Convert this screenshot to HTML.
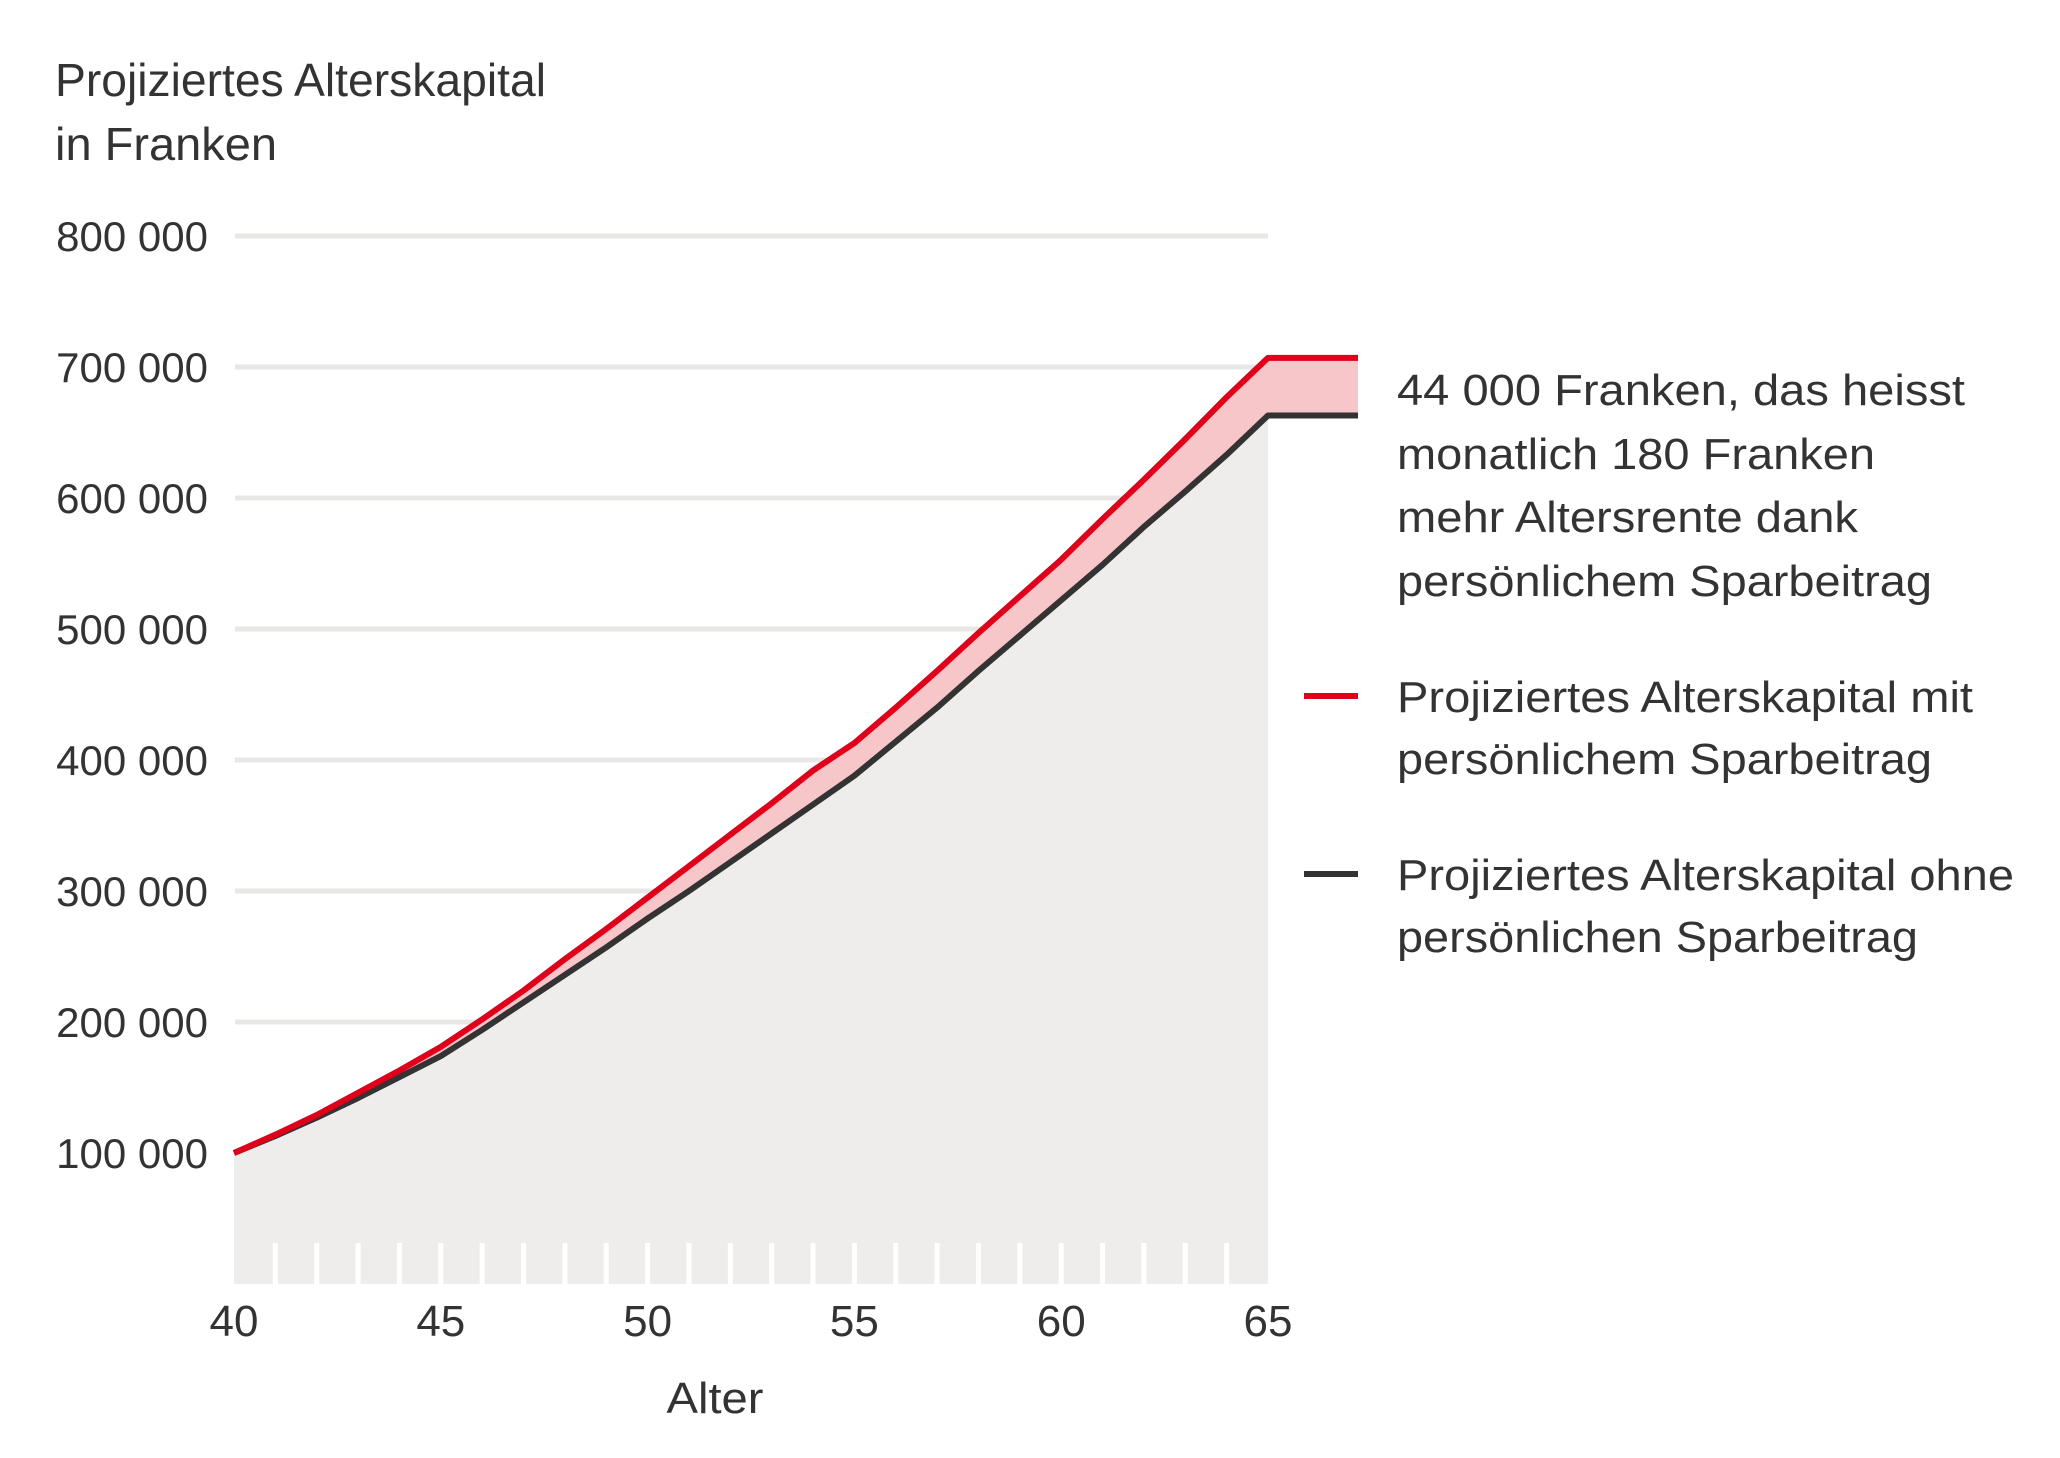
<!DOCTYPE html>
<html><head><meta charset="utf-8"><style>
html,body{margin:0;padding:0;background:#fff;}
svg{display:block;font-family:"Liberation Sans",Arial,sans-serif;}
text{fill:#333;}
</style></head><body>
<svg id="chart" width="2060" height="1458" viewBox="0 0 2060 1458">
<g>
<text x="55" y="96" font-size="46" textLength="491" lengthAdjust="spacingAndGlyphs">Projiziertes Alterskapital</text>
<text x="55" y="160" font-size="46" textLength="222" lengthAdjust="spacingAndGlyphs">in Franken</text>
</g>
<g id="grid"></g>
<g id="yticks"></g>
<g id="areas"></g>
<g id="xticks"></g>
<g id="lines"></g>
<g id="xlabels"></g>
<text x="715" y="1413" font-size="44" text-anchor="middle" textLength="97" lengthAdjust="spacingAndGlyphs">Alter</text>
<g>
<text x="1397" y="405" font-size="44" textLength="568" lengthAdjust="spacingAndGlyphs">44 000 Franken, das heisst</text>
<text x="1397" y="469" font-size="44" textLength="478" lengthAdjust="spacingAndGlyphs">monatlich 180 Franken</text>
<text x="1397" y="532" font-size="44" textLength="461" lengthAdjust="spacingAndGlyphs">mehr Altersrente dank</text>
<text x="1397" y="596" font-size="44" textLength="535" lengthAdjust="spacingAndGlyphs">persönlichem Sparbeitrag</text>
</g>
<g>
<line x1="1304" y1="696" x2="1358" y2="696" stroke="#e0001a" stroke-width="6"/>
<text x="1397" y="712" font-size="44" textLength="576" lengthAdjust="spacingAndGlyphs">Projiziertes Alterskapital mit</text>
<text x="1397" y="774" font-size="44" textLength="535" lengthAdjust="spacingAndGlyphs">persönlichem Sparbeitrag</text>
</g>
<g>
<line x1="1304" y1="874" x2="1358" y2="874" stroke="#333" stroke-width="6"/>
<text x="1397" y="890" font-size="44" textLength="617" lengthAdjust="spacingAndGlyphs">Projiziertes Alterskapital ohne</text>
<text x="1397" y="952" font-size="44" textLength="521" lengthAdjust="spacingAndGlyphs">persönlichen Sparbeitrag</text>
</g>
</svg>
<script>
const ages = [40,41,42,43,44,45,46,47,48,49,50,51,52,53,54,55,56,57,58,59,60,61,62,63,64,65];
const withContribution = [100000,114000,129000,146000,163000,181000,202000,224000,248000,271000,295000,319000,343000,367000,392000,413000,440000,468000,497000,525000,553000,584000,614000,645000,677000,707000];
const withoutContribution = [100000,113000,127000,142000,158000,174000,194000,215000,236000,257000,279000,300000,322000,344000,366000,388000,414000,440000,468000,495000,522000,549000,578000,605000,633000,663000];
const yTicks = [100000,200000,300000,400000,500000,600000,700000,800000];
const yTickLabels = ["100 000","200 000","300 000","400 000","500 000","600 000","700 000","800 000"];
const xTicks = [40,45,50,55,60,65];
const xTickLabels = ["40","45","50","55","60","65"];

const NS = "http://www.w3.org/2000/svg";
const x = a => 234 + (a - 40) * (1268 - 234) / 25;
const y = v => 1284 - v * 131 / 100000;
const extendX = x(65) + 90;
function mk(tag, attrs, parent){const e=document.createElementNS(NS,tag);for(const k in attrs)e.setAttribute(k,attrs[k]);parent.appendChild(e);return e;}

const grid=document.getElementById('grid'), yt=document.getElementById('yticks');
yTicks.forEach((v,i)=>{
  const l=mk('line',{x1:235,x2:1268,y1:y(v),y2:y(v),stroke:'#e8e7e5','stroke-width':5},grid);
  
  
  const t=mk('text',{x:208,y:y(v)+15,'font-size':42,'text-anchor':'end'},yt);
  t.textContent=yTickLabels[i];
  
  
});

const areas=document.getElementById('areas');
const last=ages.length-1;
let gp=`M${x(40)},${y(0)}`;
ages.forEach((a,i)=>gp+=` L${x(a)},${y(withoutContribution[i])}`);
gp+=` L${x(65)},${y(0)} Z`;
const ga=mk('path',{d:gp,fill:'#eeedeb'},areas);


let pp='M'+ages.map((a,i)=>`${x(a)},${y(withContribution[i])}`).join(' L')+` L${extendX},${y(withContribution[last])} L${extendX},${y(withoutContribution[last])}`;
for(let i=last;i>=0;i--) pp+=` L${x(ages[i])},${y(withoutContribution[i])}`;
pp+=' Z';
const pa=mk('path',{d:pp,fill:'#f6c6c9'},areas);



const xt=document.getElementById('xticks');
ages.slice(1,-1).forEach(a=>{
  const r=mk('rect',{x:x(a)-2.5,y:1243,width:5,height:42,fill:'#fff'},xt);
  
  
});

const lines=document.getElementById('lines');
const bp='M'+ages.map((a,i)=>`${x(a)},${y(withoutContribution[i])}`).join(' L')+` L${extendX},${y(withoutContribution[last])}`;
const bl=mk('path',{d:bp,fill:'none',stroke:'#333','stroke-width':6,'stroke-linejoin':'round'},lines);


const rp='M'+ages.map((a,i)=>`${x(a)},${y(withContribution[i])}`).join(' L')+` L${extendX},${y(withContribution[last])}`;
const rl=mk('path',{d:rp,fill:'none',stroke:'#e0001a','stroke-width':6,'stroke-linejoin':'round'},lines);



const xl=document.getElementById('xlabels');
xTicks.forEach((a,i)=>{
  const t=mk('text',{x:x(a),y:1336,'font-size':44,'text-anchor':'middle'},xl);
  t.textContent=xTickLabels[i];
  
  
});
</script>
</body></html>
